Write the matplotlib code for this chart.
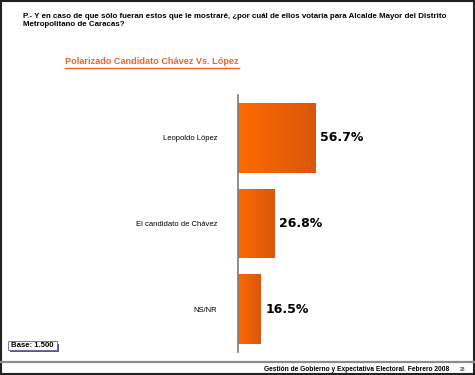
import numpy as np
import matplotlib
matplotlib.use("Agg")
import matplotlib.pyplot as plt
from matplotlib.colors import LinearSegmentedColormap
from matplotlib.patches import Rectangle

# data
categories = ["Leopoldo López", "El candidato de Chávez", "NS/NR"]
values = [56.7, 26.8, 16.5]
value_labels = ["56.7%", "26.8%", "16.5%"]

question = ("P.- Y en caso de que sólo fueran estos que le mostraré, ¿por cuál de ellos votaría para Alcalde Mayor del Distrito\n"
            "Metropolitano de Caracas?")
title = "Polarizado Candidato Chávez Vs. López"
base_text = "Base: 1.500"
footer = "Gestión de Gobierno y Expectativa Electoral. Febrero 2008"
page = "28"

W, H = 475, 375
fig = plt.figure(figsize=(W / 100, H / 100), dpi=100)
fig.patch.set_facecolor("white")

def fx(px):
    return px / W

def fy(py):
    return 1 - py / H

ax = fig.add_axes([fx(238), fy(352), fx(136), fy(95) - fy(352)])
ypos = np.arange(len(categories))
bars = ax.barh(ypos, values, height=0.81, color="#f26a0f", edgecolor="none")
ax.set_xlim(0, 100)
ax.set_ylim(2.5, -0.5)

# horizontal orange gradient inside each bar
cmap = LinearSegmentedColormap.from_list("org", ["#ff6a00", "#d9580c"])
grad = np.linspace(0, 1, 64).reshape(1, -1)
for b in bars:
    x0, y0 = b.get_x(), b.get_y()
    im = ax.imshow(grad, cmap=cmap, aspect="auto",
                   extent=[x0, x0 + b.get_width(), y0 + b.get_height(), y0], zorder=2)
    im.set_clip_path(b)

for y, v, lab in zip(ypos, values, value_labels):
    ax.text(v + 3.6, y, lab, va="center", ha="left", fontsize=9,
            fontweight="heavy", family="DejaVu Sans", color="black")

ax.set_yticks(ypos)
ax.set_yticklabels(categories, fontsize=5.5, family="Liberation Sans")
ax.tick_params(axis="y", length=0, pad=15)
ax.set_xticks([])
for s in ["top", "right", "bottom"]:
    ax.spines[s].set_visible(False)
ax.spines["left"].set_color("#7a7a7a")
ax.spines["left"].set_linewidth(1.2)
ax.set_facecolor("none")

# question header
fig.text(fx(23), fy(13), question, ha="left", va="top", fontsize=5.7,
         fontweight="bold", family="Liberation Sans", linespacing=1.1)

# orange underlined title
t = fig.text(fx(65), fy(62), title, ha="left", va="center", fontsize=6.6,
             fontweight="bold", family="Liberation Sans", color="#f26522")
fig.canvas.draw()
bb = t.get_window_extent().transformed(fig.transFigure.inverted())
fig.add_artist(plt.Line2D([bb.x0, bb.x1], [bb.y0 - 0.003, bb.y0 - 0.003],
                          transform=fig.transFigure, color="#f26522", lw=1.0))

# base box with shadow
fig.add_artist(Rectangle((fx(10), fy(352)), fx(49), fy(344) - fy(352),
                         transform=fig.transFigure, facecolor="#5a5a8a", edgecolor="none"))
fig.add_artist(Rectangle((fx(8), fy(350)), fx(49), fy(341) - fy(350),
                         transform=fig.transFigure, facecolor="white",
                         edgecolor="#6060a0", lw=0.6))
fig.text(fx(32.5), fy(345.5), base_text, ha="center", va="center", fontsize=5.6,
         fontweight="bold", family="Liberation Sans")

# footer separator and text
fig.add_artist(plt.Line2D([0, 1], [fy(362), fy(362)], transform=fig.transFigure,
                          color="#8c8c8c", lw=1.6))
fig.text(fx(449), fy(369.5), footer, ha="right", va="center", fontsize=4.8,
         fontweight="bold", family="Liberation Sans")
fig.text(fx(463), fy(369.5), page, ha="center", va="center", fontsize=3.5,
         family="Liberation Sans")

# outer frame
fig.add_artist(Rectangle((0.002, 0.003), 0.996, 0.994, transform=fig.transFigure,
                         facecolor="none", edgecolor="#222222", lw=1.5))

fig.savefig("out.png", dpi=100)
